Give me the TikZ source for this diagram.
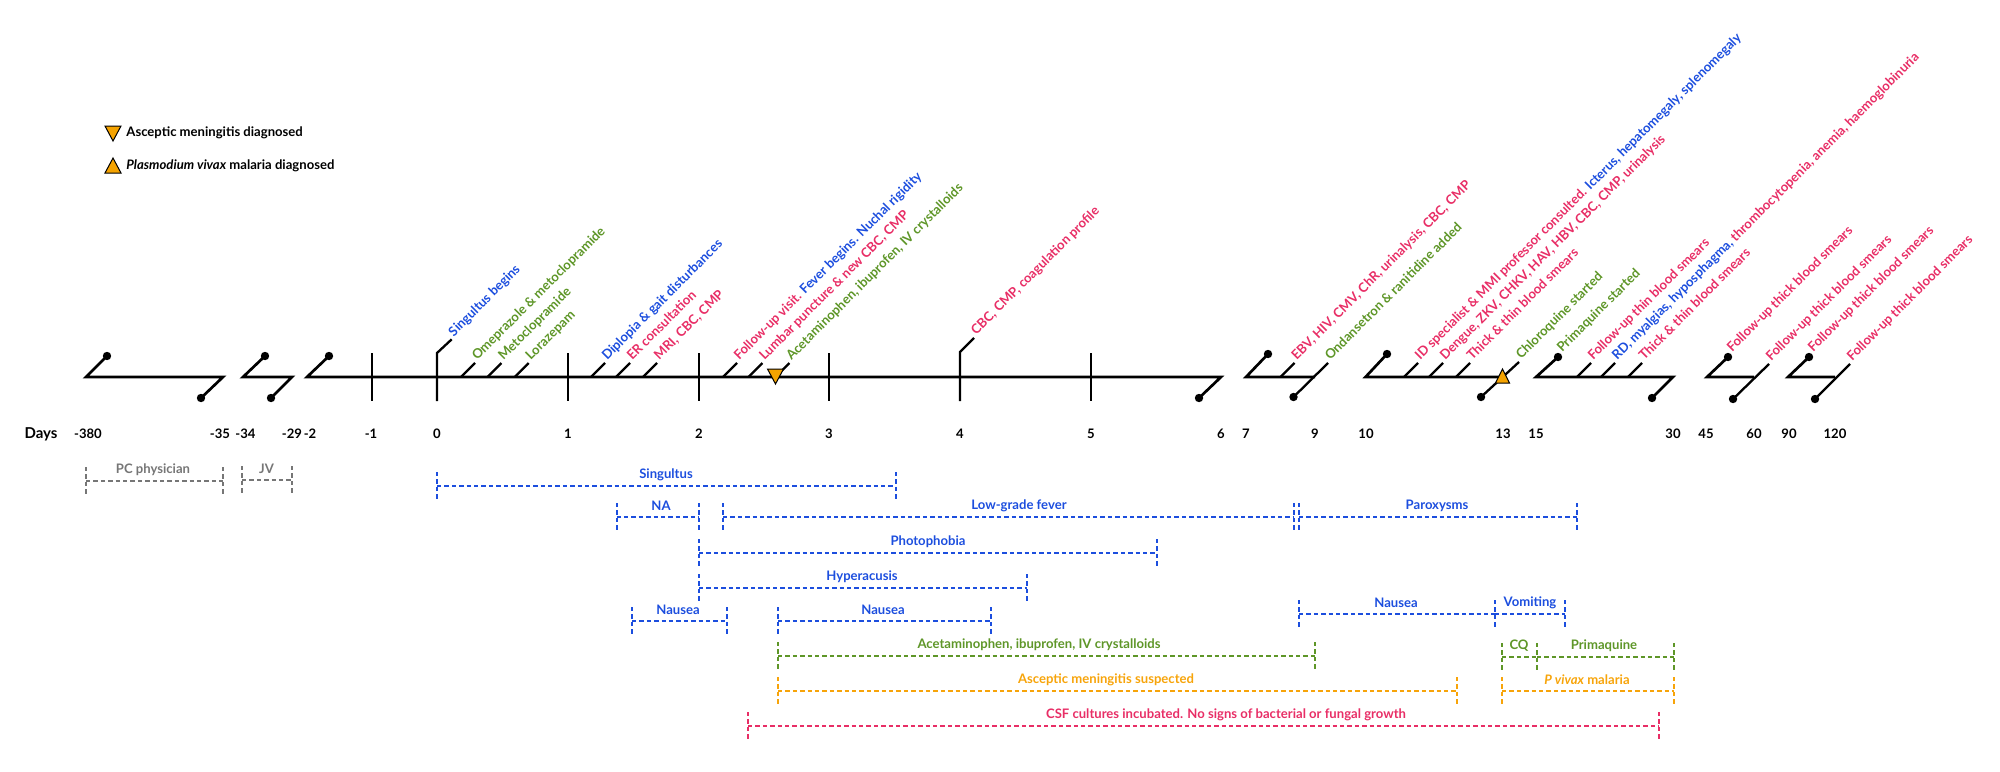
\documentclass[tikz,border=0pt]{standalone}
\usepackage{fontspec}
\setmainfont{Lato}
\definecolor{cblue}{RGB}{28,78,222}
\definecolor{cgreen}{RGB}{94,150,40}
\definecolor{cpink}{RGB}{232,46,102}
\definecolor{corange}{RGB}{247,164,10}
\definecolor{cgray}{RGB}{118,118,118}
\definecolor{trifill}{RGB}{245,163,0}
\newcommand\lfont{\bfseries\fontsize{6.55}{8}\selectfont}
\tikzset{
  seg/.style={line width=1.35pt, line join=miter},
  tk/.style={line width=1.15pt},
  lab/.style={font=\lfont, inner sep=0pt, rotate=45, anchor=base west},
  txt/.style={font=\lfont, inner sep=0pt},
  daylab/.style={font=\lfont, inner sep=0pt},
  tri/.style={fill=trifill, draw=black, line width=0.5pt, line join=miter},
  per/.style={line width=1pt, dash pattern=on 2.2pt off 1.5pt},
  perlab/.style={font=\lfont, inner sep=0pt}
}
\newcommand\evt[3]{%
  \draw[tk] (#2,377) -- ++(14,-14) coordinate (#1-e);
  \node[lab] (#1) at ([shift={(2,-2)}]#1-e) {#3};}
\newcommand\perbar[7]{%
  \draw[per,#2] (#3,#5-14) -- (#3,#5+15) (#3,#5) -- (#4,#5) (#4,#5-14) -- (#4,#5+15);
  \node[perlab,text=#2] (#1) at (#6,#5-11.5) {#7};}
\newcommand\dotat[1]{\fill (#1) circle[radius=2.1pt];}
\begin{document}
\begin{tikzpicture}[x=0.5pt,y=-0.5pt]
\useasboundingbox (0,0) rectangle (2000,771);
% legend
\draw[tri] (105,126) -- (121,126) -- (113,141) -- cycle;
\node[txt,anchor=west] (leg1) at (126,133) {Asceptic meningitis diagnosed};
\draw[tri] (105,173) -- (121,173) -- (113,158) -- cycle;
\node[txt,anchor=west] (leg2) at (126,166) {\textit{Plasmodium vivax} malaria diagnosed};
% timeline segments
\draw[seg] (107,356) -- (86,377) -- (223,377) -- (201,398);
\dotat{107,356}\dotat{201,398}
\draw[seg] (265,356) -- (243,377) -- (292,377) -- (271,398);
\dotat{265,356}\dotat{271,398}
\draw[seg] (329,356) -- (307,377) -- (1221,377) -- (1199,398);
\dotat{329,356}\dotat{1199,398}
\draw[seg] (1268,354) -- (1246,377) -- (1315,377);
\draw[tk] (1293.5,397) -- (1328,363);
\dotat{1268,354}\dotat{1293.5,397}
\draw[seg] (1387,354) -- (1365.5,377) -- (1502,377);
\draw[tk] (1481,397) -- (1519,362);
\dotat{1387,354}\dotat{1481,397}
\draw[seg] (1558,357) -- (1536,377) -- (1673,377) -- (1652,398);
\dotat{1558,357}\dotat{1652,398}
\draw[seg] (1728,357) -- (1707,377) -- (1754,377);
\draw[tk] (1733,399) -- (1769,364);
\dotat{1728,357}\dotat{1733,399}
\draw[seg] (1809,357) -- (1788,377) -- (1835,377);
\draw[tk] (1815,399) -- (1850,364);
\dotat{1809,357}\dotat{1815,399}
% day ticks
\foreach \dx in {372,568,699,829,1091} {\draw[tk] (\dx,353) -- (\dx,401);}
\draw[tk] (451.7,339.3) -- (437,353) -- (437,401);
\draw[tk] (974,338) -- (960,352) -- (960,401);
% events
\node[lab] (l0) at (453.7,337.3) {\textcolor{cblue}{Singultus begins}};
\node[lab] (l4) at (976,336) {\textcolor{cpink}{CBC, CMP, coagulation profile}};
\evt{e1}{461}{\textcolor{cgreen}{Omeprazole \& metoclopramide}}
\evt{e2}{487.4}{\textcolor{cgreen}{Metoclopramide}}
\evt{e3}{514.7}{\textcolor{cgreen}{Lorazepam}}
\evt{e4}{591}{\textcolor{cblue}{Diplopia \& gait disturbances}}
\evt{e5}{616}{\textcolor{cpink}{ER consultation}}
\evt{e6}{643}{\textcolor{cpink}{MRI, CBC, CMP}}
\evt{e7}{723}{\textcolor{cpink}{Follow-up visit.} \textcolor{cblue}{Fever begins. Nuchal rigidity}}
\evt{e8}{748.4}{\textcolor{cpink}{Lumbar puncture \& new CBC, CMP}}
\evt{e9}{775.4}{\textcolor{cgreen}{Acetaminophen, ibuprofen, IV crystalloids}}
\evt{e10}{1280.5}{\textcolor{cpink}{EBV, HIV, CMV, ChR, urinalysis, CBC, CMP}}
\node[lab] (l9) at (1330,361) {\textcolor{cgreen}{Ondansetron \& ranitidine added}};
\evt{e11}{1404}{\textcolor{cpink}{ID specialist \& MMI professor consulted.} \textcolor{cblue}{Icterus, hepatomegaly, splenomegaly}}
\evt{e12}{1429}{\textcolor{cpink}{Dengue, ZKV, CHKV, HAV, HBV, CBC, CMP, urinalysis}}
\evt{e13}{1456}{\textcolor{cpink}{Thick \& thin blood smears}}
\node[lab] (l13) at (1521,360) {\textcolor{cgreen}{Chloroquine started}};
\node[lab] (l15) at (1562,353) {\textcolor{cgreen}{Primaquine started}};
\evt{e14}{1577}{\textcolor{cpink}{Follow-up thin blood smears}}
\evt{e15}{1601}{\textcolor{cblue}{RD, myalgias, hyposphagma,} \textcolor{cpink}{thrombocytopenia, anemia, haemoglobinuria}}
\evt{e16}{1628}{\textcolor{cpink}{Thick \& thin blood smears}}
\node[lab] (l45) at (1732,353) {\textcolor{cpink}{Follow-up thick blood smears}};
\node[lab] (l60) at (1771,362) {\textcolor{cpink}{Follow-up thick blood smears}};
\node[lab] (l90) at (1813,353) {\textcolor{cpink}{Follow-up thick blood smears}};
\node[lab] (l120) at (1852,362) {\textcolor{cpink}{Follow-up thick blood smears}};
% diagnosis markers
\draw[tri] (767.5,369) -- (783.5,369) -- (775.5,384) -- cycle;
\draw[tri] (1495.5,383) -- (1509.5,383) -- (1502.5,369) -- cycle;
% day labels
\node[daylab,font=\bfseries\fontsize{7.5}{9}\selectfont] (days) at (41,434) {Days};
\foreach \p/\t [count=\i] in {88/-380,220/-35,245.5/-34,292/-29,310/-2,371/-1,437/0,568/1,699/2,829/3,960/4,1091/5,1221/6,1246/7,1315/9,1366/10,1503/13,1536/15,1673/30,1706/45,1754/60,1789/90,1835/120}
  {\node[daylab] (d\i) at (\p,434) {\t};}
% periods
\perbar{p1}{cgray}{86}{223}{481}{153}{PC physician}
\perbar{p2}{cgray}{242}{292}{480}{266.5}{JV}
\perbar{p3}{cblue}{437}{895.5}{486}{666}{Singultus}
\perbar{p4}{cblue}{616.5}{699}{517}{661}{NA}
\perbar{p5}{cblue}{723}{1294}{517}{1019}{Low-grade fever}
\perbar{p6}{cblue}{1299}{1577}{517}{1437}{Paroxysms}
\perbar{p7}{cblue}{699}{1157}{553}{928}{Photophobia}
\perbar{p8}{cblue}{699}{1027}{588}{862}{Hyperacusis}
\perbar{p9}{cblue}{632}{727}{621}{678}{Nausea}
\perbar{p10}{cblue}{778}{991}{621}{883}{Nausea}
\perbar{p11}{cblue}{1299}{1495}{614}{1396}{Nausea}
\perbar{p12}{cblue}{1495}{1565}{614}{1530}{Vomiting}
\perbar{p13}{cgreen}{778}{1315}{656}{1039}{Acetaminophen, ibuprofen, IV crystalloids}
\perbar{p14}{cgreen}{1502}{1537}{657}{1519}{CQ}
\perbar{p15}{cgreen}{1537}{1674}{657}{1604}{Primaquine}
\perbar{p16}{corange}{778}{1457}{691}{1106}{Asceptic meningitis suspected}
\perbar{p17}{corange}{1502}{1674}{691}{1587}{\textit{P vivax} malaria}
\perbar{p18}{cpink}{748}{1659}{726}{1226}{CSF cultures incubated. No signs of bacterial or fungal growth}
\end{tikzpicture}
\end{document}
